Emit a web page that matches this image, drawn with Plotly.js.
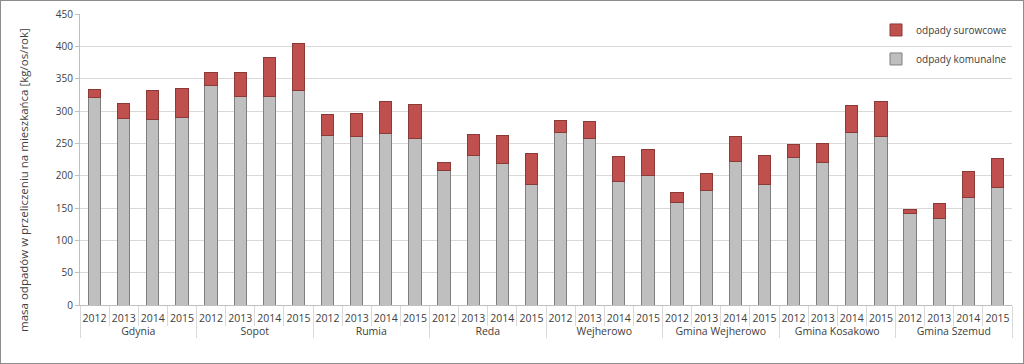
<!DOCTYPE html>
<html>
<head>
<meta charset="utf-8">
<script src="https://cdn.plot.ly/plotly-3.0.1.min.js"></script>
<style>
html,body{margin:0;padding:0;background:#fff;}
#chart{width:1022px;height:362px;border:1px solid #8c8c8c;}
</style>
</head>
<body>
<div id="chart"></div>
<script>
const cities = ['Gdynia','Sopot','Rumia','Reda','Wejherowo','Gmina Wejherowo','Gmina Kosakowo','Gmina Szemud'];
const years = ['2012','2013','2014','2015'];
// odpady komunalne per city, per year 2012-2015
const komunalne = [
  321, 289, 287, 290,
  340, 322, 322, 332,
  262, 260, 265, 258,
  208, 231, 219, 187,
  267, 258, 191, 201,
  159, 177, 222, 187,
  228, 221, 266, 261,
  141, 134, 167, 182
];
// odpady surowcowe per city, per year 2012-2015
const surowcowe = [
  13, 22, 44, 45,
  19, 37, 60, 72,
  33, 36, 50, 52,
  12, 32, 43, 48,
  18, 26, 38, 39,
  15, 26, 39, 44,
  20, 29, 43, 53,
  7, 23, 40, 44
];
const yTitle = 'masa odpadów w przeliczeniu na mieszkańca [kg/os/rok]';

const xCity = [], xYear = [];
cities.forEach(c => years.forEach(y => { xCity.push(c); xYear.push(y); }));

const font = 'Open Sans, Noto Sans, sans-serif';

const traces = [
  {
    type: 'bar', name: 'odpady komunalne', legendgroup: 'kom', legendrank: 2,
    x: [xCity, xYear], y: komunalne,
    marker: {color: '#BFBFBF', line: {color: '#7f7f7f', width: 1}},
    hoverinfo: 'y'
  },
  {
    type: 'bar', name: 'odpady surowcowe', legendgroup: 'sur', legendrank: 1,
    x: [xCity, xYear], y: surowcowe,
    marker: {color: '#C0504D', line: {color: '#8c3a38', width: 1}},
    hoverinfo: 'y'
  }
];

const layout = {
  width: 1022, height: 362,
  barmode: 'stack',
  bargap: 0.58,
  paper_bgcolor: '#fff', plot_bgcolor: '#fff',
  margin: {l: 79, r: 11, t: 13, b: 58, pad: 0, autoexpand: false},
  font: {family: font, size: 10.5, color: '#404040'},
  showlegend: true,
  legend: {
    x: 1.0, y: 0.995, xanchor: 'right', yanchor: 'top',
    bgcolor: 'rgba(0,0,0,0)',
    traceorder: 'grouped', tracegroupgap: 10,
    font: {family: font, size: 10, color: '#404040'},
    itemwidth: 30
  },
  xaxis: {
    type: 'multicategory',
    tickangle: 0,
    showline: true, linecolor: '#BFBFBF', linewidth: 1,
    ticks: 'outside', tickson: 'boundaries', ticklen: 20, tickcolor: '#D9D9D9',
    ticklabelstandoff: 3,
    showdividers: true, dividercolor: '#D9D9D9', dividerwidth: 1,
    tickfont: {family: font, size: 10.5, color: '#404040'},
    showgrid: false
  },
  yaxis: {
    range: [0, 450], dtick: 50,
    showgrid: true, gridcolor: '#D9D9D9', gridwidth: 1,
    showline: true, linecolor: '#BFBFBF', linewidth: 1,
    ticks: 'outside', ticklen: 4, tickcolor: '#BFBFBF',
    zeroline: false,
    tickfont: {family: font, size: 10, color: '#404040'}
  },
  annotations: [{
    text: yTitle, textangle: -90, showarrow: false,
    xref: 'paper', yref: 'paper', x: -0.06, y: 0.43,
    xanchor: 'center', yanchor: 'middle',
    font: {family: font, size: 11.5, color: '#404040'}
  }]
};

Plotly.newPlot('chart', traces, layout, {displayModeBar: false, staticPlot: true});
</script>
</body>
</html>
